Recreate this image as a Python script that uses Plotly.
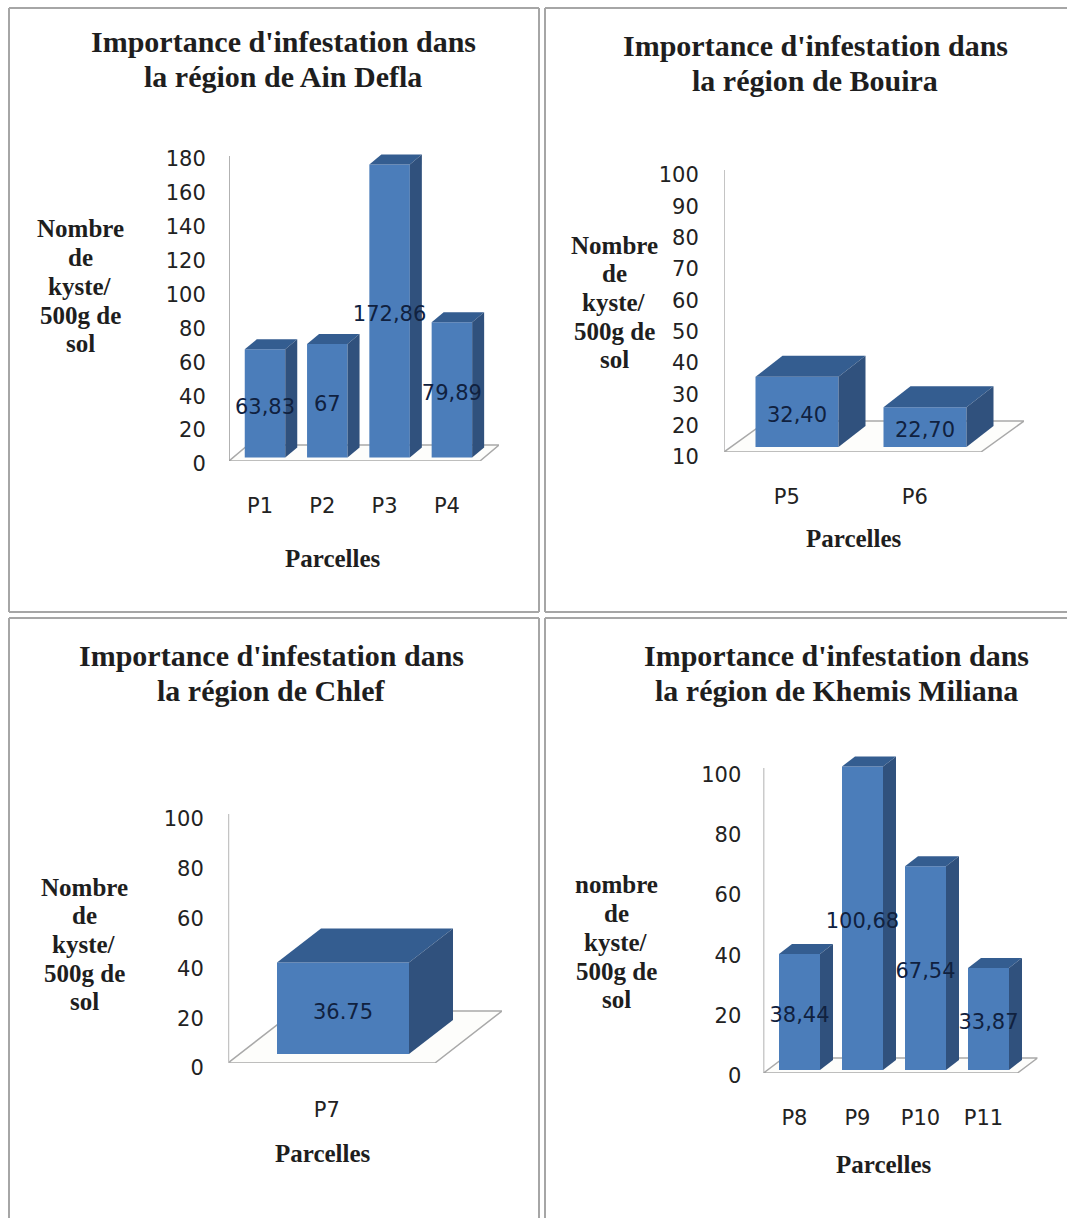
import plotly.graph_objects as go

W, H = 1067, 1218

# Cyst counts per plot, one small list per region
ain_defla_plots = ["P1", "P2", "P3", "P4"]
ain_defla_values = [63.83, 67, 172.86, 79.89]
ain_defla_labels = ["63,83", "67", "172,86", "79,89"]

bouira_plots = ["P5", "P6"]
bouira_values = [32.40, 22.70]
bouira_labels = ["32,40", "22,70"]

chlef_plots = ["P7"]
chlef_values = [36.75]
chlef_labels = ["36.75"]

khemis_plots = ["P8", "P9", "P10", "P11"]
khemis_values = [38.44, 100.68, 67.54, 33.87]
khemis_labels = ["38,44", "100,68", "67,54", "33,87"]

FRONT = "#4b7dba"
TOP = "#345d90"
SIDE = "#30517d"
FLOOR_LINE = "#a9a9a9"
SERIF = "Liberation Serif"
SANS = "DejaVu Sans"

TITLE_STEP = 35
LABEL_STEP = 28.7
HEADROOM = 24      # room above the scale for bars that exceed it
TEXT_NUDGE = 5     # value labels sit slightly below the bar's midpoint

panels = [
    dict(plots=ain_defla_plots, values=ain_defla_values, labels=ain_defla_labels,
         left=229, right=499, top=156, bottom=461, ymin=0, ymax=180, dtick=20,
         first=265, step=62.3, bar_w=40.5, inset=3.5, depth=(12, 10), floor=(19, 16),
         shift=3, ylen=18, xlen=26, axis_extra=0, axis_w=1.5, axis_c="#989898",
         title=["Importance d'infestation dans", "la région de Ain Defla"], title_xy=(283, 41),
         ylabel=["Nombre", "de", "kyste/", "500g de", "sol"], ylabel_xy=(80, 229),
         xlabel_xy=(333, 558)),
    dict(plots=bouira_plots, values=bouira_values, labels=bouira_labels,
         left=724, right=1024, top=170, bottom=452, ymin=10, ymax=100, dtick=10,
         first=797, step=128, bar_w=83, inset=5, depth=(27, 21), floor=(43, 31),
         shift=5, ylen=20, xlen=26, axis_extra=0, axis_w=1.5, axis_c="#b0b0b0",
         title=["Importance d'infestation dans", "la région de Bouira"], title_xy=(815, 45),
         ylabel=["Nombre", "de", "kyste/", "500g de", "sol"], ylabel_xy=(614, 245),
         xlabel_xy=(854, 538)),
    dict(plots=chlef_plots, values=chlef_values, labels=chlef_labels,
         left=228, right=502, top=814, bottom=1063, ymin=0, ymax=100, dtick=20,
         first=343, step=203, bar_w=132, inset=9, depth=(44, 34), floor=(67, 52),
         shift=5, ylen=19, xlen=28, axis_extra=0, axis_w=2.5, axis_c="#c4c4c4",
         title=["Importance d'infestation dans", "la région de Chlef"], title_xy=(271, 655),
         ylabel=["Nombre", "de", "kyste/", "500g de", "sol"], ylabel_xy=(84, 887),
         xlabel_xy=(323, 1153)),
    dict(plots=khemis_plots, values=khemis_values, labels=khemis_labels,
         left=763.5, right=1037.5, top=771.5, bottom=1073, ymin=0, ymax=100, dtick=20,
         first=799.5, step=63, bar_w=41, inset=3, depth=(13, 10), floor=(20, 15),
         shift=3, ylen=17, xlen=26, axis_extra=3.5, axis_w=1.5, axis_c="#989898",
         title=["Importance d'infestation dans", "la région de Khemis Miliana"], title_xy=(836, 655),
         ylabel=["nombre", "de", "kyste/", "500g de", "sol"], ylabel_xy=(616, 885),
         xlabel_xy=(884, 1164)),
]

fig = go.Figure()
annotations = []
shapes = []


def page_note(text, x, y, size):
    annotations.append(dict(
        text=text, xref="paper", yref="paper", x=x / W, y=1 - y / H,
        xanchor="center", yanchor="middle", showarrow=False, align="center",
        font=dict(family=SERIF, size=size, color="#1e1e1e", weight="bold"),
    ))


for n, p in enumerate(panels, start=1):
    suffix = "" if n == 1 else str(n)
    xa, ya = f"x{suffix}", f"y{suffix}"

    # pixel sizes converted to this subplot's axis units
    px_per_y = (p["bottom"] - p["top"]) / (p["ymax"] - p["ymin"])
    xlo = (p["left"] - p["first"]) / p["step"]
    xhi = (p["right"] - p["first"]) / p["step"]
    half = p["bar_w"] / p["step"] / 2
    dep_x, dep_y = p["depth"][0] / p["step"], p["depth"][1] / px_per_y
    flo_x, flo_y = p["floor"][0] / p["step"], p["floor"][1] / px_per_y
    base = p["ymin"] + p["inset"] / px_per_y
    # the Bouira axis starts at ten, so its bars rise from there
    heights = [v - p["ymin"] for v in p["values"]]
    xs = list(range(len(p["values"])))

    # floor of the 3-D box, kept under the bars
    y0, y1 = p["ymin"], p["ymin"] + flo_y
    shapes.append(dict(
        type="path", xref=xa, yref=ya, layer="below", fillcolor="#fdfdfb",
        line=dict(color=FLOOR_LINE, width=1.5),
        path=f"M {xlo} {y0} L {xlo + flo_x} {y1} L {xhi} {y1} L {xhi - flo_x} {y0} Z",
    ))

    # value axis line stops at the last tick, whatever the headroom
    fig.add_trace(go.Scatter(
        x=[xlo, xlo], y=[p["ymin"], p["ymax"] + p["axis_extra"] / px_per_y], mode="lines",
        line=dict(color=p["axis_c"], width=p["axis_w"]), hoverinfo="skip",
        showlegend=False, cliponaxis=False, xaxis=xa, yaxis=ya,
    ))

    # front faces
    fig.add_trace(go.Bar(
        x=xs, y=heights, base=base, width=2 * half, marker=dict(color=FRONT, line_width=0),
        showlegend=False, cliponaxis=False, xaxis=xa, yaxis=ya,
    ))

    # top and side faces follow each bar's value
    for i, h in zip(xs, heights):
        l, r = i - half, i + half
        tip = base + h
        fig.add_trace(go.Scatter(
            x=[l, l + dep_x, r + dep_x, r, l], y=[tip, tip + dep_y, tip + dep_y, tip, tip],
            mode="lines", line=dict(color=TOP, width=0), fill="toself", fillcolor=TOP,
            hoverinfo="skip", showlegend=False, cliponaxis=False, xaxis=xa, yaxis=ya,
        ))
        fig.add_trace(go.Scatter(
            x=[r, r + dep_x, r + dep_x, r, r], y=[tip, tip + dep_y, base + dep_y, base, tip],
            mode="lines", line=dict(color=SIDE, width=0), fill="toself", fillcolor=SIDE,
            hoverinfo="skip", showlegend=False, cliponaxis=False, xaxis=xa, yaxis=ya,
        ))

    # value labels sit about halfway up each bar
    fig.add_trace(go.Scatter(
        x=xs, y=[base + h / 2 - TEXT_NUDGE / px_per_y for h in heights],
        text=p["labels"], mode="text",
        textposition="middle center", textfont=dict(family=SANS, size=21, color="#10213f"),
        hoverinfo="skip", showlegend=False, cliponaxis=False, xaxis=xa, yaxis=ya,
    ))

    x_key = "xaxis" if n == 1 else f"xaxis{n}"
    y_key = "yaxis" if n == 1 else f"yaxis{n}"
    fig.update_layout({
        x_key: dict(
            domain=[p["left"] / W, p["right"] / W], range=[xlo, xhi], anchor=ya,
            showgrid=False, zeroline=False, showline=False,
            tickmode="array", tickvals=[i - 0.08 for i in xs], ticktext=p["plots"],
            ticks="outside", ticklen=p["xlen"], tickcolor="rgba(0,0,0,0)",
            tickfont=dict(family=SANS, size=21, color="#222222"),
        ),
        y_key: dict(
            domain=[1 - p["bottom"] / H, 1 - (p["top"] - HEADROOM) / H],
            range=[p["ymin"], p["ymax"] + HEADROOM / px_per_y], anchor=xa,
            showgrid=False, zeroline=False, showline=False,
            tickmode="array", tickvals=list(range(p["ymin"], p["ymax"] + 1, p["dtick"])),
            ticks="outside", ticklen=p["ylen"],
            tickcolor="rgba(0,0,0,0)", ticklabelshift=p["shift"],
            tickfont=dict(family=SANS, size=21, color="#222222"),
        ),
    })

    for k, line in enumerate(p["title"]):
        page_note(line, p["title_xy"][0], p["title_xy"][1] + k * TITLE_STEP, 30)
    for k, line in enumerate(p["ylabel"]):
        page_note(line, p["ylabel_xy"][0], p["ylabel_xy"][1] + k * LABEL_STEP, 25)
    page_note("Parcelles", p["xlabel_xy"][0], p["xlabel_xy"][1], 25)


def rule(x0, y0, x1, y1):
    return dict(type="line", xref="paper", yref="paper", x0=x0 / W, x1=x1 / W,
                y0=1 - y0 / H, y1=1 - y1 / H, line=dict(color="#a6a6a6", width=2), layer="below")


# panel frames run off the right and bottom of the page
shapes += [
    rule(9, 8, 539, 8), rule(545, 8, W, 8),
    rule(9, 612, 539, 612), rule(545, 612, W, 612),
    rule(9, 618, 539, 618), rule(545, 618, W, 618),
    rule(9, 8, 9, 612), rule(539, 8, 539, 612), rule(545, 8, 545, 612),
    rule(9, 618, 9, H), rule(539, 618, 539, H), rule(545, 618, 545, H),
]

fig.update_layout(
    width=W, height=H, autosize=False,
    margin=dict(l=0, r=0, t=0, b=0, pad=0, autoexpand=False),
    paper_bgcolor="white", plot_bgcolor="rgba(0,0,0,0)", barmode="overlay",
    annotations=annotations, shapes=shapes,
)

fig.write_html("out.html", config=dict(displayModeBar=False))
